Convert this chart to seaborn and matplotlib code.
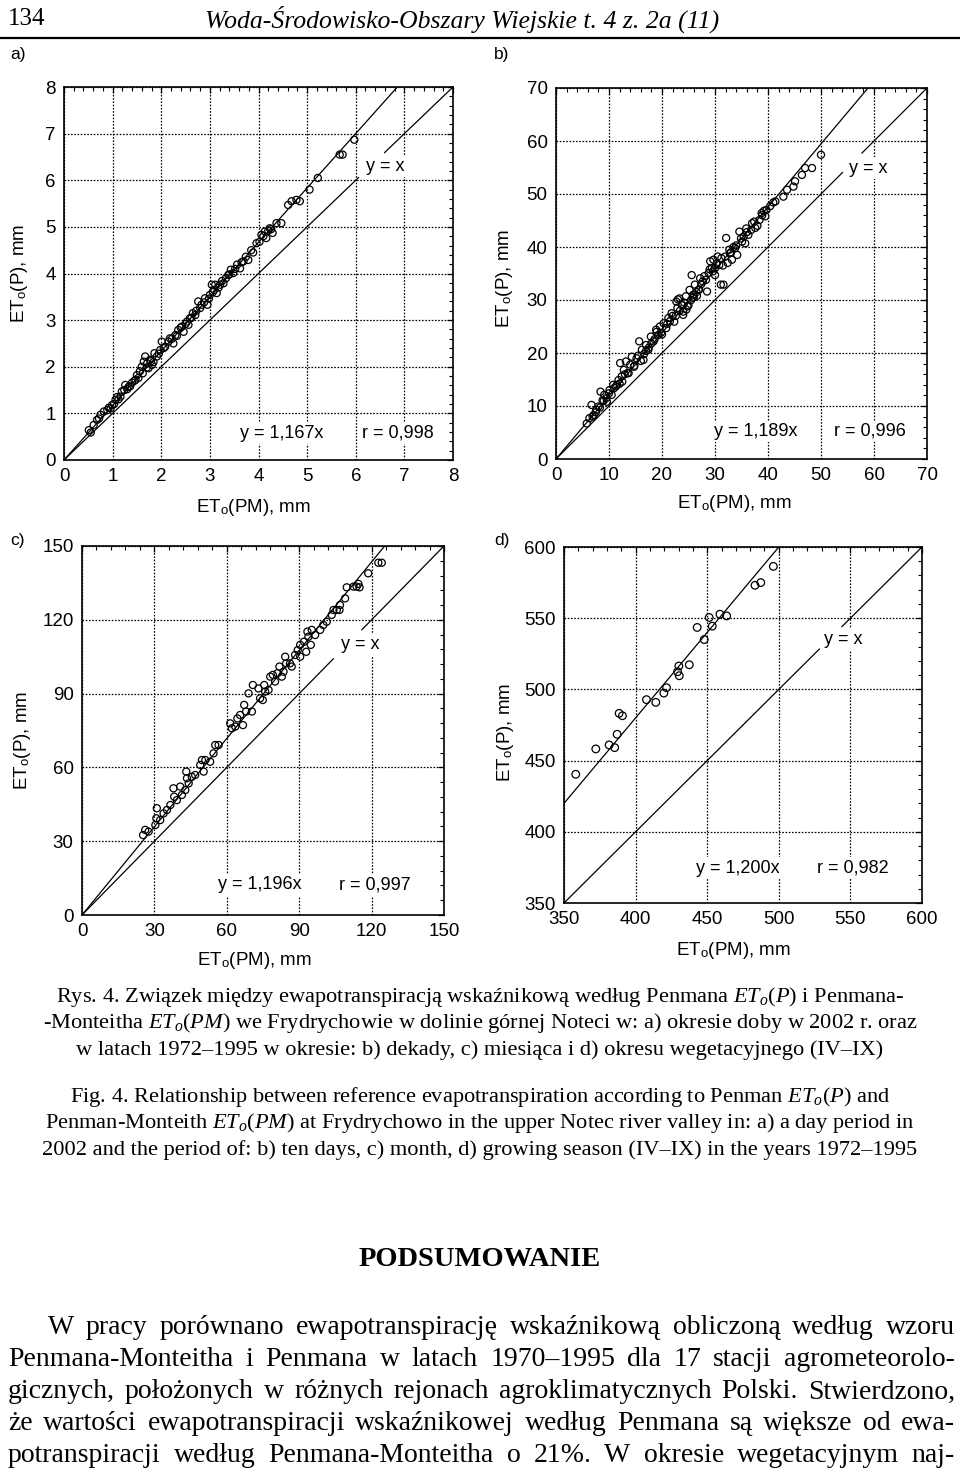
import numpy as np
import matplotlib
matplotlib.use('Agg')
import matplotlib.pyplot as plt
from matplotlib.ticker import MultipleLocator, AutoMinorLocator
import seaborn as sns

# ---- data ----
# a) daily values 2002
a_pm = [0.51, 0.55, 0.61, 0.68, 0.72, 0.75, 0.82, 0.89, 0.96, 0.99, 1.06, 1.09, 1.16, 1.19,
        1.24, 1.26, 1.33, 1.40, 1.47, 1.50, 1.56, 1.60, 1.64, 1.67, 1.71, 1.74, 1.77, 1.81,
        1.86, 1.91, 1.98, 2.01, 2.08, 2.15, 2.18, 2.25, 2.29, 2.35, 2.42, 2.46, 2.53, 2.56,
        2.59, 2.65, 2.70, 2.76, 2.80, 2.83, 2.90, 2.95, 3.00, 3.04, 3.09, 3.11, 3.14, 3.21,
        3.28, 3.33, 3.38, 3.43, 3.48, 3.56, 3.62, 3.69, 3.74, 3.79, 3.89, 3.96, 4.06, 4.13,
        4.16, 4.23, 4.29, 4.37, 4.47, 4.61, 4.68, 4.78, 4.85, 5.05, 5.22, 5.67, 5.73, 5.97,
        1.12, 1.30, 1.45, 1.70, 1.95, 2.22, 2.50, 2.62, 2.88, 3.18, 3.52, 3.85, 4.20, 1.36,
        1.53, 1.62, 1.79, 1.84, 2.05, 2.32, 2.40, 2.72, 2.98, 3.06, 3.25, 3.40, 3.65, 4.02,
        4.10, 4.26, 0.92, 1.03]
a_p = [0.64, 0.59, 0.75, 0.86, 0.89, 0.97, 1.04, 1.07, 1.11, 1.18, 1.29, 1.35, 1.36, 1.47,
       1.50, 1.61, 1.57, 1.66, 1.72, 1.82, 1.90, 2.00, 2.11, 2.22, 2.07, 1.97, 2.15, 2.04,
       2.29, 2.22, 2.36, 2.54, 2.43, 2.54, 2.61, 2.50, 2.68, 2.79, 2.86, 2.75, 2.97, 2.90,
       3.04, 3.15, 3.11, 3.40, 3.26, 3.33, 3.47, 3.33, 3.54, 3.76, 3.65, 3.76, 3.58, 3.76,
       3.79, 3.90, 3.97, 4.08, 4.01, 4.19, 4.11, 4.26, 4.36, 4.29, 4.45, 4.65, 4.83, 4.90,
       4.76, 4.97, 4.87, 5.08, 5.08, 5.47, 5.55, 5.58, 5.55, 5.80, 6.05, 6.55, 6.55, 6.87,
       1.30, 1.52, 1.70, 1.98, 2.28, 2.60, 2.92, 3.05, 3.38, 3.70, 4.10, 4.50, 4.92, 1.58,
       1.76, 1.86, 2.12, 2.10, 2.40, 2.66, 2.84, 3.20, 3.46, 3.60, 3.84, 3.98, 4.24, 4.68,
       4.80, 4.95, 1.12, 1.20]

# b) ten-day periods 1972-1995
b_pm = [5.8, 6.3, 6.7, 7.1, 7.6, 8.0, 8.4, 8.8, 9.1, 9.6, 10.1, 10.5, 10.8, 11.3, 11.8,
        12.1, 12.4, 12.8, 13.2, 13.7, 14.0, 14.3, 14.7, 15.2, 15.7, 16.2, 16.5, 17.0, 17.4,
        17.9, 18.4, 18.9, 19.3, 19.6, 20.3, 20.8, 21.2, 21.8, 22.3, 22.7, 22.9, 23.3, 23.7,
        24.0, 24.5, 24.8, 25.2, 25.6, 25.9, 26.2, 26.9, 27.2, 27.7, 28.5, 28.8, 29.1, 29.4,
        29.7, 30.0, 30.5, 30.8, 31.1, 31.6, 31.9, 32.1, 32.4, 32.7, 33.2, 33.8, 34.2, 34.6,
        35.1, 35.7, 36.3, 37.0, 37.6, 38.4, 38.8, 39.5, 40.4, 41.4, 42.9, 43.6, 44.8, 45.1,
        46.4, 47.0, 48.3, 50.0,
        24.2, 23.0, 25.5, 26.5, 21.0, 19.0, 17.5, 15.5, 13.0, 11.5, 9.5, 28.0, 30.0, 31.5,
        33.5, 36.0, 38.0, 7.5, 16.0, 27.0, 22.0, 24.6, 20.0, 18.0, 26.0, 29.0, 12.5, 10.0,
        23.4, 24.0, 25.0, 25.8, 22.6, 23.8, 26.6, 27.4, 28.3, 29.6, 30.3, 31.2, 32.8, 34.0,
        34.9, 35.4, 36.8, 37.4, 38.9, 39.7, 21.5, 19.8, 18.6, 17.0, 16.6, 14.8, 13.5, 12.0,
        11.0, 9.0, 8.3, 6.9, 33.0, 35.9, 39.2, 41.0]
b_p = [6.7, 7.7, 10.2, 8.3, 9.3, 9.9, 12.7, 11.1, 12.1, 10.8, 13.0, 12.1, 14.0, 13.7, 14.9,
       18.1, 15.6, 16.8, 18.4, 16.2, 17.8, 19.3, 17.4, 19.0, 22.2, 20.6, 18.7, 21.5, 20.6,
       23.1, 22.2, 24.4, 23.4, 25.0, 25.6, 24.7, 26.6, 27.5, 25.9, 29.7, 28.5, 30.3, 29.1,
       27.8, 30.7, 28.8, 31.9, 34.7, 31.0, 32.9, 31.9, 34.1, 33.5, 31.6, 35.1, 37.3, 36.0,
       37.6, 34.7, 38.2, 36.6, 32.9, 32.9, 38.2, 41.7, 37.0, 39.5, 37.6, 39.8, 38.5, 42.9,
       41.0, 40.7, 42.3, 44.5, 43.6, 45.1, 46.4, 45.8, 47.7, 48.6, 49.5, 50.8, 51.4, 52.4,
       53.6, 54.9, 54.9, 57.4,
       29.5, 30.1, 30.0, 31.5, 25.5, 24.0, 21.0, 19.5, 16.0, 14.0, 11.5, 34.5, 36.0, 36.5,
       40.0, 42.8, 44.0, 8.8, 18.5, 32.0, 27.0, 28.2, 23.5, 21.8, 30.6, 35.8, 14.6, 12.4,
       28.0, 27.2, 29.0, 30.4, 27.0, 29.0, 30.8, 33.0, 33.8, 35.4, 36.8, 37.9, 38.8, 40.3,
       41.6, 42.0, 43.2, 44.8, 46.0, 47.0, 26.0, 23.8, 22.6, 20.4, 19.8, 17.6, 16.2, 14.2,
       13.4, 11.0, 9.7, 8.0, 39.0, 43.5, 46.8, 48.4]

# c) monthly values 1972-1995
c_pm = [25.3, 26.2, 27.6, 30.4, 31.0, 30.8, 32.4, 33.8, 35.2, 36.6, 37.9, 38.2, 39.3, 40.7,
        41.4, 42.8, 43.2, 43.5, 44.2, 45.5, 46.9, 49.0, 49.7, 50.4, 51.1, 53.1, 54.5, 55.2,
        56.6, 61.4, 62.1, 63.5, 64.4, 65.5, 66.7, 67.2, 68.0, 69.0, 70.4, 70.8, 73.1, 73.8,
        74.9, 75.5, 75.9, 77.3, 78.0, 79.1, 80.0, 81.0, 81.8, 82.8, 83.5, 84.2, 84.6, 86.2,
        86.9, 88.3, 89.4, 90.4, 90.4, 92.0, 92.9, 93.4, 93.8, 94.8, 95.2, 96.6, 98.7, 100.0,
        101.4, 103.5, 104.2, 105.6, 106.7, 106.9, 109.0, 109.7, 112.5, 113.8, 114.5, 115.0,
        118.6, 122.8, 124.2]
c_p = [32.5, 34.6, 33.9, 36.6, 43.4, 39.3, 38.6, 41.3, 42.7, 44.7, 51.5, 48.1, 46.7, 52.2,
       48.8, 50.8, 58.3, 55.6, 53.5, 56.2, 56.9, 61.0, 63.0, 58.3, 63.0, 62.3, 65.7, 69.1,
       69.1, 77.9, 75.9, 76.6, 79.9, 81.3, 77.2, 85.4, 82.7, 90.1, 82.7, 93.5, 92.1, 88.1,
       87.4, 93.5, 90.8, 91.5, 96.9, 97.6, 94.9, 98.3, 101.0, 96.9, 98.9, 105.0, 102.3, 102.3,
       101.0, 105.7, 107.7, 109.8, 105.0, 111.1, 107.0, 115.2, 113.1, 109.8, 115.9, 113.8,
       115.9, 117.9, 119.2, 122.0, 124.0, 124.0, 124.0, 126.0, 128.7, 133.2, 133.5, 133.5,
       134.6, 133.2, 138.9, 143.2, 143.2]

# d) growing season IV-IX 1972-1995
d_pm = [358.2, 372.2, 381.5, 385.4, 387.1, 388.5, 390.8, 407.6, 414.1, 419.7, 421.6, 429.3,
        430.2, 430.5, 437.5, 443.0, 447.9, 451.4, 453.5, 458.9, 463.6, 483.4, 487.4, 496.2]
d_p = [440.4, 458.2, 461.0, 459.1, 468.5, 483.2, 481.5, 492.8, 490.9, 497.4, 501.2, 512.4,
       516.4, 509.6, 517.3, 543.5, 535.0, 550.5, 544.4, 552.8, 551.6, 573.1, 575.0, 586.4]

slopes = [1.167, 1.189, 1.196, 1.200]
r_values = ['0,998', '0,996', '0,997', '0,982']
panel_tags = ['a)', 'b)', 'c)', 'd)']

# ---- style ----
sns.set_theme(style='white')
plt.rcParams['font.family'] = ['Liberation Sans', 'DejaVu Sans']
plt.rcParams['text.color'] = 'black'
plt.rcParams['axes.labelcolor'] = 'black'
plt.rcParams['mathtext.fontset'] = 'custom'
plt.rcParams['mathtext.rm'] = 'Liberation Serif'
plt.rcParams['mathtext.it'] = 'Liberation Serif:italic'
plt.rcParams['mathtext.sf'] = 'Liberation Sans'
plt.rcParams['mathtext.bf'] = 'Liberation Serif:bold'

W, H = 960, 1475
fig = plt.figure(figsize=(W / 100, H / 100), dpi=100)
fig.patch.set_facecolor('white')

# panel layout in pixels: left, top, right, bottom, plus label / annotation placement
panels = [
    dict(box=(64, 87, 453, 460), lim=(0, 8), step=1, x=a_pm, y=a_p, tag=(10, 55),
         gap=(6.06, 6.59), yx=(6.6, 6.3), eq=(4.47, 0.57), rr=(6.87, 0.57),
         ylab=(-0.087, 0.5), xlab=(0.486, -0.10)),
    dict(box=(556, 88, 927, 459), lim=(0, 70), step=10, x=b_pm, y=b_p, tag=(494, 55),
         gap=(54.1, 57.7), yx=(58.9, 54.9), eq=(37.6, 5.2), rr=(59.3, 5.2),
         ylab=(-0.11, 0.488), xlab=(0.482, -0.092)),
    dict(box=(82, 546, 444, 915), lim=(0, 150), step=30, x=c_pm, y=c_p, tag=(10, 541),
         gap=(104.2, 115.9), yx=(115.3, 109.8), eq=(73.5, 12.2), rr=(121.2, 12.2),
         ylab=(-0.135, 0.474), xlab=(0.475, -0.095)),
    dict(box=(564, 547, 922, 903), lim=(350, 600), step=50, x=d_pm, y=d_p, tag=(494, 541),
         gap=(528.4, 544.0), yx=(545.0, 535.0), eq=(471.5, 374.5), rr=(552.0, 374.5),
         ylab=(-0.134, 0.478), xlab=(0.472, -0.104)),
]

label_box = dict(facecolor='white', edgecolor='none', pad=1.5)

for i, p in enumerate(panels):
    l, t, r, b = p['box']
    ax = fig.add_axes([l / W, 1 - b / H, (r - l) / W, (b - t) / H])
    lo, hi = p['lim']

    sns.scatterplot(x=p['x'], y=p['y'], ax=ax, s=26 if i < 3 else 30, marker='o',
                    color='none', edgecolor='black', linewidth=0.9, zorder=3)
    ax.collections[-1].set_facecolor('none')
    ax.collections[-1].set_edgecolor('black')

    xs = np.array([lo, hi])
    ax.plot(xs, slopes[i] * xs, color='black', lw=0.9, zorder=2)
    g0, g1 = p['gap']
    ax.plot([lo, g0], [lo, g0], color='black', lw=0.9, zorder=2)
    ax.plot([g1, hi], [g1, hi], color='black', lw=0.9, zorder=2)

    ax.set_xlim(lo, hi)
    ax.set_ylim(lo, hi)
    ax.xaxis.set_major_locator(MultipleLocator(p['step']))
    ax.yaxis.set_major_locator(MultipleLocator(p['step']))
    ax.xaxis.set_minor_locator(AutoMinorLocator(5))
    ax.yaxis.set_minor_locator(AutoMinorLocator(5))
    ax.grid(True, which='major', color='black', linestyle=(0, (1.3, 1.3)), linewidth=0.9)
    ax.tick_params(which='both', direction='in', top=True, right=True, colors='black',
                   labelsize=13.5)
    ax.tick_params(which='major', length=4, width=0.9, pad=6)
    ax.tick_params(which='minor', length=3, width=0.8)
    for sp in ax.spines.values():
        sp.set_color('black')
        sp.set_linewidth(1.2)

    ax.set_xlabel(r'ET$_\mathsf{o}$(PM), mm', fontsize=13.5, color='black')
    ax.set_ylabel(r'ET$_\mathsf{o}$(P), mm', fontsize=13.5, color='black')
    ax.xaxis.set_label_coords(*p['xlab'])
    ax.yaxis.set_label_coords(*p['ylab'])

    ax.text(*p['yx'], 'y = x', fontsize=13, ha='center', va='center', bbox=label_box,
            zorder=4)
    ax.text(*p['eq'], f'y = {slopes[i]:.3f}'.replace('.', ',') + 'x', fontsize=13,
            ha='center', va='center', bbox=label_box, zorder=4)
    ax.text(*p['rr'], 'r = ' + r_values[i], fontsize=13, ha='center', va='center',
            bbox=label_box, zorder=4)

    fig.text(p['tag'][0] / W, 1 - p['tag'][1] / H, panel_tags[i], fontsize=12.5,
             ha='left', va='center')

# ---- page text ----
serif = ['Liberation Serif', 'DejaVu Serif']
fig.text(8 / W, 1 - 19 / H, '134', family=serif, fontsize=18, ha='left', va='center')
fig.text(462 / W, 1 - 19 / H, 'Woda-Środowisko-Obszary Wiejskie t. 4 z. 2a (11)',
         family=serif, style='italic', fontsize=18.5, ha='center', va='center')
fig.add_artist(plt.Line2D([0, 1], [1 - 38 / H, 1 - 38 / H], color='black', lw=1.6))

caption = [
    (997, r'Rys. 4. Związek między ewapotranspiracją wskaźnikową według Penmana $ET_o(P)$ i Penmana-'),
    (1023, r'-Monteitha $ET_o(PM)$ we Frydrychowie w dolinie górnej Noteci w: a) okresie doby w 2002 r. oraz'),
    (1050, 'w latach 1972–1995 w okresie: b) dekady, c) miesiąca i d) okresu wegetacyjnego (IV–IX)'),
    (1097, r'Fig. 4. Relationship between reference evapotranspiration according to Penman $ET_o(P)$ and'),
    (1123, r'Penman-Monteith $ET_o(PM)$ at Frydrychowo in the upper Notec river valley in: a) a day period in'),
    (1150, '2002 and the period of: b) ten days, c) month, d) growing season (IV–IX) in the years 1972–1995'),
]
for y, s in caption:
    fig.text(480 / W, 1 - y / H, s, family=serif, fontsize=16.1, ha='center', va='center')

fig.text(480 / W, 1 - 1260 / H, 'PODSUMOWANIE', family=serif, weight='bold', fontsize=20.5,
         ha='center', va='center')

body = [
    (1327, 48, 'W pracy porównano ewapotranspirację wskaźnikową obliczoną według wzoru'),
    (1360, 8, 'Penmana-Monteitha i Penmana w latach 1970–1995 dla 17 stacji agrometeorolo-'),
    (1392, 8, 'gicznych, położonych w różnych rejonach agroklimatycznych Polski. Stwierdzono,'),
    (1424, 8, 'że wartości ewapotranspiracji wskaźnikowej według Penmana są większe od ewa-'),
    (1456, 8, 'potranspiracji według Penmana-Monteitha o 21%. W okresie wegetacyjnym naj-'),
]
right_edge = 955
fig.canvas.draw()
renderer = fig.canvas.get_renderer()
for y, left, line in body:
    words = line.split(' ')
    items = [fig.text(0, 1 - y / H, w, family=serif, fontsize=20, ha='left', va='center')
             for w in words]
    widths = [t.get_window_extent(renderer).width for t in items]
    gap = (right_edge - left - sum(widths)) / (len(words) - 1)
    x = left
    for t, w in zip(items, widths):
        t.set_x(x / W)
        x += w + gap

fig.savefig('out.png', dpi=100, facecolor='white')
